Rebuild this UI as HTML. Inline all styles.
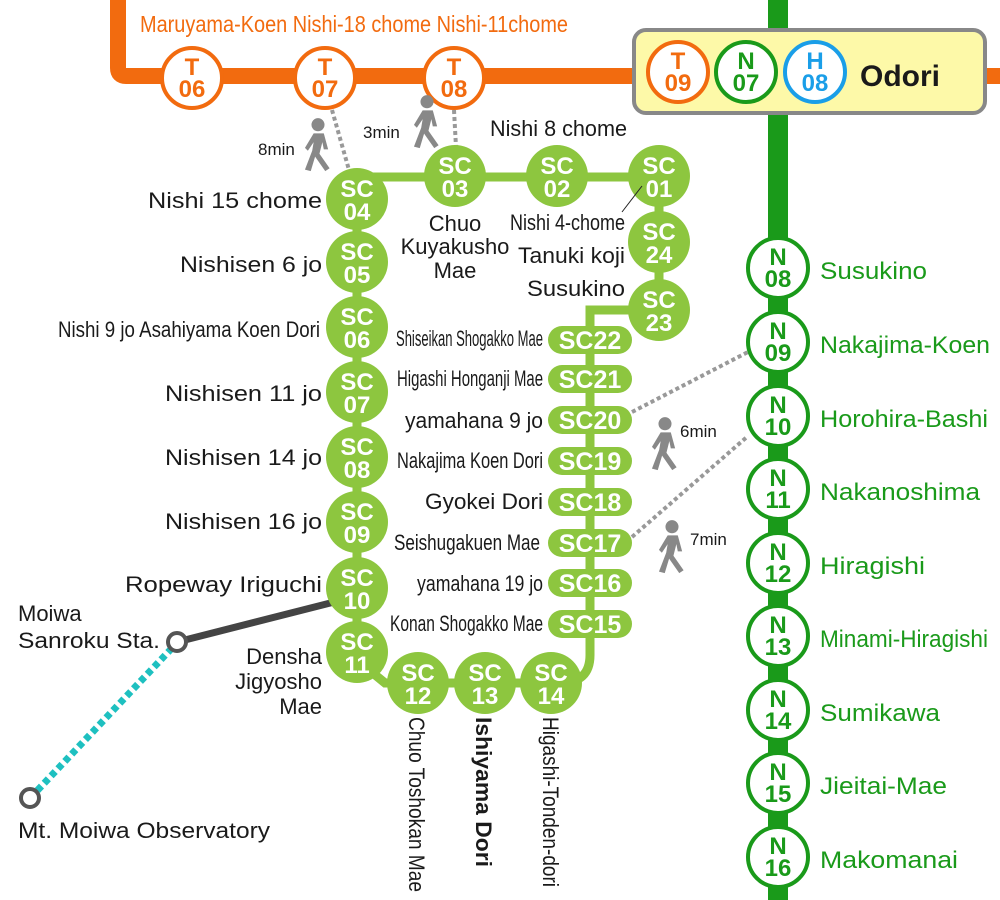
<!DOCTYPE html>
<html><head><meta charset="utf-8"><style>
html,body{margin:0;padding:0;background:#fff;}
svg{display:block;font-family:"Liberation Sans",sans-serif;}
.sc{fill:#fff;font-weight:bold;font-size:24px;text-anchor:middle;}
.pl{fill:#fff;font-weight:bold;font-size:25px;text-anchor:middle;}
.lb{fill:#1a1a1a;font-size:22px;}
.sm{fill:#1a1a1a;font-size:17px;}
.nt{fill:#1a9a1a;font-weight:bold;font-size:24px;text-anchor:middle;}
.nl{fill:#1a9a1a;font-size:24px;}
.tt{fill:#f26b0f;font-weight:bold;font-size:24px;text-anchor:middle;}
</style></head><body>
<svg width="1000" height="900" viewBox="0 0 1000 900" xmlns="http://www.w3.org/2000/svg">
<defs>
<g id="walk" fill="#888">
<circle cx="0" cy="-14" r="4.5"/>
<path d="M-3,-8 L4,-8 L7,3 L4,3 L3,-2 L1,6 L8,16 L5,18 L-2,8 L-5,18 L-9,17 L-4,4 L-3,-2 L-7,4 L-9,2 Z"/>
</g>
</defs>
<path d="M118,0 L118,68 Q118,76 126,76 L1000,76" fill="none" stroke="#f26b0f" stroke-width="16"/>
<rect x="768" y="0" width="20" height="900" fill="#1a9a1a"/>
<g stroke="#999" stroke-width="4" stroke-dasharray="4,3" fill="none">
<line x1="332" y1="110" x2="349" y2="170"/>
<line x1="454" y1="110" x2="456" y2="147"/>
<line x1="632" y1="412" x2="748" y2="352"/>
<line x1="632" y1="537" x2="748" y2="436"/>
</g>
<g fill="#fff" stroke="#f26b0f" stroke-width="4">
<circle cx="192" cy="78" r="30"/><circle cx="325" cy="78" r="30"/><circle cx="454" cy="78" r="30"/>
</g>
<text class="tt" x="192" y="75">T</text><text class="tt" x="192" y="97">06</text>
<text class="tt" x="325" y="75">T</text><text class="tt" x="325" y="97">07</text>
<text class="tt" x="454" y="75">T</text><text class="tt" x="454" y="97">08</text>
<text x="140" y="32" fill="#f26b0f" font-size="23" textLength="428" lengthAdjust="spacingAndGlyphs">Maruyama-Koen Nishi-18 chome Nishi-11chome</text>
<rect x="634" y="30" width="351" height="83" rx="12" fill="#fdf9a8" stroke="#888" stroke-width="4"/>
<circle cx="678" cy="72" r="30" fill="#fff" stroke="#f26b0f" stroke-width="4"/>
<circle cx="746" cy="72" r="30" fill="#fff" stroke="#1a9a1a" stroke-width="4"/>
<circle cx="815" cy="72" r="30" fill="#fff" stroke="#1a9ee8" stroke-width="4"/>
<text class="tt" x="678" y="69">T</text><text class="tt" x="678" y="91">09</text>
<text class="nt" x="746" y="69">N</text><text class="nt" x="746" y="91">07</text>
<text class="nt" x="815" y="69" style="fill:#1a9ee8">H</text><text class="nt" x="815" y="91" style="fill:#1a9ee8">08</text>
<text x="860" y="86" font-size="30" font-weight="bold" fill="#1a1a1a">Odori</text>
<g fill="#fff" stroke="#1a9a1a" stroke-width="4">
<circle cx="778" cy="268" r="30"/><circle cx="778" cy="342" r="30"/><circle cx="778" cy="416" r="30"/>
<circle cx="778" cy="489" r="30"/><circle cx="778" cy="563" r="30"/><circle cx="778" cy="636" r="30"/>
<circle cx="778" cy="710" r="30"/><circle cx="778" cy="783" r="30"/><circle cx="778" cy="857" r="30"/>
</g>
<text class="nt" x="778" y="265">N</text><text class="nt" x="778" y="287">08</text>
<text class="nt" x="778" y="339">N</text><text class="nt" x="778" y="361">09</text>
<text class="nt" x="778" y="413">N</text><text class="nt" x="778" y="435">10</text>
<text class="nt" x="778" y="486">N</text><text class="nt" x="778" y="508">11</text>
<text class="nt" x="778" y="560">N</text><text class="nt" x="778" y="582">12</text>
<text class="nt" x="778" y="633">N</text><text class="nt" x="778" y="655">13</text>
<text class="nt" x="778" y="707">N</text><text class="nt" x="778" y="729">14</text>
<text class="nt" x="778" y="780">N</text><text class="nt" x="778" y="802">15</text>
<text class="nt" x="778" y="854">N</text><text class="nt" x="778" y="876">16</text>
<text class="nl" x="820" y="279" textLength="107" lengthAdjust="spacingAndGlyphs">Susukino</text>
<text class="nl" x="820" y="353" textLength="170" lengthAdjust="spacingAndGlyphs">Nakajima-Koen</text>
<text class="nl" x="820" y="427" textLength="168" lengthAdjust="spacingAndGlyphs">Horohira-Bashi</text>
<text class="nl" x="820" y="500" textLength="160" lengthAdjust="spacingAndGlyphs">Nakanoshima</text>
<text class="nl" x="820" y="574" textLength="105" lengthAdjust="spacingAndGlyphs">Hiragishi</text>
<text class="nl" x="820" y="647" textLength="168" lengthAdjust="spacingAndGlyphs">Minami-Hiragishi</text>
<text class="nl" x="820" y="721" textLength="120" lengthAdjust="spacingAndGlyphs">Sumikawa</text>
<text class="nl" x="820" y="794" textLength="127" lengthAdjust="spacingAndGlyphs">Jieitai-Mae</text>
<text class="nl" x="820" y="868" textLength="138" lengthAdjust="spacingAndGlyphs">Makomanai</text>
<line x1="350" y1="598" x2="177" y2="642" stroke="#444" stroke-width="7"/>
<line x1="172" y1="648" x2="34" y2="794" stroke="#1ec0c0" stroke-width="7" stroke-dasharray="6,4"/>
<circle cx="177" cy="642" r="9" fill="#fff" stroke="#555" stroke-width="4"/>
<circle cx="30" cy="798" r="9" fill="#fff" stroke="#555" stroke-width="4"/>
<g fill="none" stroke="#8dc63f" stroke-width="9">
<path d="M357,199 L357,177 L659,177 L659,310"/>
<path d="M357,199 L357,660 L385,683 L551,683"/>
<path d="M659,310 L590,310 L590,655 Q590,683 560,683"/>
</g>
<g fill="#8dc63f">
<circle cx="357" cy="199" r="31"/><circle cx="455" cy="176" r="31"/><circle cx="557" cy="176" r="31"/><circle cx="659" cy="176" r="31"/>
<circle cx="659" cy="242" r="31"/><circle cx="659" cy="310" r="31"/>
<circle cx="357" cy="262" r="31"/><circle cx="357" cy="327" r="31"/><circle cx="357" cy="392" r="31"/>
<circle cx="357" cy="457" r="31"/><circle cx="357" cy="522" r="31"/><circle cx="357" cy="588" r="31"/><circle cx="357" cy="652" r="31"/>
<circle cx="418" cy="683" r="31"/><circle cx="485" cy="683" r="31"/><circle cx="551" cy="683" r="31"/>
<rect x="548" y="326" width="84" height="28" rx="14"/><rect x="548" y="365" width="84" height="28" rx="14"/>
<rect x="548" y="406" width="84" height="28" rx="14"/><rect x="548" y="447" width="84" height="28" rx="14"/>
<rect x="548" y="488" width="84" height="28" rx="14"/><rect x="548" y="529" width="84" height="28" rx="14"/>
<rect x="548" y="569" width="84" height="28" rx="14"/><rect x="548" y="610" width="84" height="28" rx="14"/>
</g>
<g>
<text class="sc" x="357" y="197">SC</text><text class="sc" x="357" y="220">04</text>
<text class="sc" x="455" y="174">SC</text><text class="sc" x="455" y="197">03</text>
<text class="sc" x="557" y="174">SC</text><text class="sc" x="557" y="197">02</text>
<text class="sc" x="659" y="174">SC</text><text class="sc" x="659" y="197">01</text>
<text class="sc" x="659" y="240">SC</text><text class="sc" x="659" y="263">24</text>
<text class="sc" x="659" y="308">SC</text><text class="sc" x="659" y="331">23</text>
<text class="sc" x="357" y="260">SC</text><text class="sc" x="357" y="283">05</text>
<text class="sc" x="357" y="325">SC</text><text class="sc" x="357" y="348">06</text>
<text class="sc" x="357" y="390">SC</text><text class="sc" x="357" y="413">07</text>
<text class="sc" x="357" y="455">SC</text><text class="sc" x="357" y="478">08</text>
<text class="sc" x="357" y="520">SC</text><text class="sc" x="357" y="543">09</text>
<text class="sc" x="357" y="586">SC</text><text class="sc" x="357" y="609">10</text>
<text class="sc" x="357" y="650">SC</text><text class="sc" x="357" y="673">11</text>
<text class="sc" x="418" y="681">SC</text><text class="sc" x="418" y="704">12</text>
<text class="sc" x="485" y="681">SC</text><text class="sc" x="485" y="704">13</text>
<text class="sc" x="551" y="681">SC</text><text class="sc" x="551" y="704">14</text>
</g>
<text class="pl" x="590" y="349">SC22</text><text class="pl" x="590" y="388">SC21</text>
<text class="pl" x="590" y="429">SC20</text><text class="pl" x="590" y="470">SC19</text>
<text class="pl" x="590" y="511">SC18</text><text class="pl" x="590" y="552">SC17</text>
<text class="pl" x="590" y="592">SC16</text><text class="pl" x="590" y="633">SC15</text>
<text class="lb" x="148" y="208" textLength="174" lengthAdjust="spacingAndGlyphs">Nishi 15 chome</text>
<text class="lb" x="180" y="272" textLength="142" lengthAdjust="spacingAndGlyphs">Nishisen 6 jo</text>
<text class="lb" x="58" y="337" font-size="20" textLength="262" lengthAdjust="spacingAndGlyphs">Nishi 9 jo Asahiyama Koen Dori</text>
<text class="lb" x="165" y="401" textLength="157" lengthAdjust="spacingAndGlyphs">Nishisen 11 jo</text>
<text class="lb" x="165" y="465" textLength="157" lengthAdjust="spacingAndGlyphs">Nishisen 14 jo</text>
<text class="lb" x="165" y="529" textLength="157" lengthAdjust="spacingAndGlyphs">Nishisen 16 jo</text>
<text class="lb" x="125" y="592" textLength="197" lengthAdjust="spacingAndGlyphs">Ropeway Iriguchi</text>
<text class="lb" x="322" y="664" text-anchor="end">Densha</text>
<text class="lb" x="322" y="689" text-anchor="end">Jigyosho</text>
<text class="lb" x="322" y="714" text-anchor="end">Mae</text>
<text class="lb" x="18" y="621">Moiwa</text>
<text class="lb" x="18" y="648" textLength="142" lengthAdjust="spacingAndGlyphs">Sanroku Sta.</text>
<text class="lb" x="18" y="838" textLength="252" lengthAdjust="spacingAndGlyphs">Mt. Moiwa Observatory</text>
<text class="lb" x="490" y="136" textLength="137" lengthAdjust="spacingAndGlyphs">Nishi 8 chome</text>
<text class="lb" x="455" y="231" text-anchor="middle">Chuo</text>
<text class="lb" x="455" y="254" text-anchor="middle">Kuyakusho</text>
<text class="lb" x="455" y="278" text-anchor="middle">Mae</text>
<text class="lb" x="510" y="230" font-size="20" textLength="115" lengthAdjust="spacingAndGlyphs">Nishi 4-chome</text>
<line x1="642" y1="186" x2="622" y2="212" stroke="#222" stroke-width="1"/>
<text class="lb" x="518" y="263" textLength="107" lengthAdjust="spacingAndGlyphs">Tanuki koji</text>
<text class="lb" x="527" y="296" textLength="98" lengthAdjust="spacingAndGlyphs">Susukino</text>
<text class="lb" x="396" y="346" font-size="17" textLength="147" lengthAdjust="spacingAndGlyphs">Shiseikan Shogakko Mae</text>
<text class="lb" x="397" y="386" font-size="19" textLength="146" lengthAdjust="spacingAndGlyphs">Higashi Honganji Mae</text>
<text class="lb" x="405" y="428" font-size="21" textLength="138" lengthAdjust="spacingAndGlyphs">yamahana 9 jo</text>
<text class="lb" x="397" y="468" font-size="19" textLength="146" lengthAdjust="spacingAndGlyphs">Nakajima Koen Dori</text>
<text class="lb" x="425" y="509" textLength="118" lengthAdjust="spacingAndGlyphs">Gyokei Dori</text>
<text class="lb" x="394" y="550" font-size="19" textLength="146" lengthAdjust="spacingAndGlyphs">Seishugakuen Mae</text>
<text class="lb" x="417" y="591" font-size="20" textLength="126" lengthAdjust="spacingAndGlyphs">yamahana 19 jo</text>
<text class="lb" x="390" y="631" font-size="18" textLength="153" lengthAdjust="spacingAndGlyphs">Konan Shogakko Mae</text>
<text class="lb" transform="translate(409,717) rotate(90)" font-size="20" textLength="175" lengthAdjust="spacingAndGlyphs">Chuo Toshokan Mae</text>
<text class="lb" transform="translate(476,717) rotate(90)" font-weight="bold" font-size="21" textLength="150" lengthAdjust="spacingAndGlyphs">Ishiyama Dori</text>
<text class="lb" transform="translate(543,717) rotate(90)" font-size="19" textLength="170" lengthAdjust="spacingAndGlyphs">Higashi-Tonden-dori</text>
<use href="#walk" transform="translate(318,145) scale(1.45)"/>
<use href="#walk" transform="translate(427,122) scale(1.45)"/>
<use href="#walk" transform="translate(665,444) scale(1.45)"/>
<use href="#walk" transform="translate(672,547) scale(1.45)"/>
<text class="sm" x="258" y="155">8min</text>
<text class="sm" x="363" y="138">3min</text>
<text class="sm" x="680" y="437">6min</text>
<text class="sm" x="690" y="545">7min</text>
</svg>
</body></html>
